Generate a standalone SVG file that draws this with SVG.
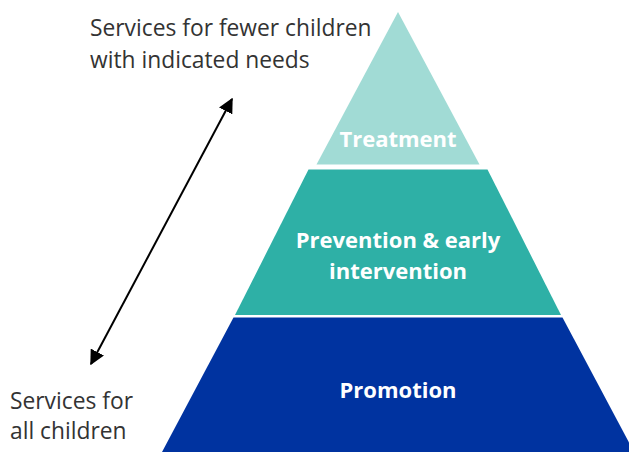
<svg xmlns="http://www.w3.org/2000/svg" width="629" height="452" viewBox="0 0 629 452">
  <style>
    .tier-label { font-family: "Open Sans", "Liberation Sans", sans-serif; font-weight: bold; font-size: 22px; fill: #ffffff; text-anchor: middle; }
    .note { font-family: "Open Sans", "Liberation Sans", sans-serif; font-size: 22.8px; fill: #333333; }
    .link { stroke: #000000; stroke-width: 2; fill: none; }
  </style>
  <defs>
    <marker id="arrowhead" viewBox="0 0 10 10" refX="9" refY="5" markerWidth="7.5" markerHeight="7.5" orient="auto-start-reverse" markerUnits="strokeWidth">
      <path d="M0,0 L10,5 L0,10 Z" fill="#000000"/>
    </marker>
  </defs>
  <rect width="629" height="452" fill="#ffffff"/>

  <!-- Pyramid tiers, top to bottom -->
  <g id="treatment">
    <polygon points="398,12 479.5,164.5 316.5,164.5" fill="#a1dbd5"/>
    <text class="tier-label" x="398" y="147">Treatment</text>
  </g>
  <g id="prevention">
    <polygon points="308.5,169.5 487.5,169.5 561,315 235,315" fill="#2eb0a6"/>
    <text class="tier-label" x="398" y="248">Prevention &amp; early</text>
    <text class="tier-label" x="398" y="279">intervention</text>
  </g>
  <g id="promotion">
    <polygon points="233.5,317.5 562.5,317.5 634,452 162,452" fill="#0033a0"/>
    <text class="tier-label" x="398" y="398">Promotion</text>
  </g>

  <!-- Side notes -->
  <g id="note-fewer">
    <text class="note" x="90" y="36">Services for fewer children</text>
    <text class="note" x="90" y="68">with indicated needs</text>
  </g>
  <g id="note-all">
    <text class="note" x="10" y="409">Services for</text>
    <text class="note" x="10" y="439">all children</text>
  </g>

  <!-- Double-headed scale arrow -->
  <g id="connectors">
    <line class="link" x1="91" y1="364" x2="232" y2="99" marker-start="url(#arrowhead)" marker-end="url(#arrowhead)"/>
  </g>
</svg>
